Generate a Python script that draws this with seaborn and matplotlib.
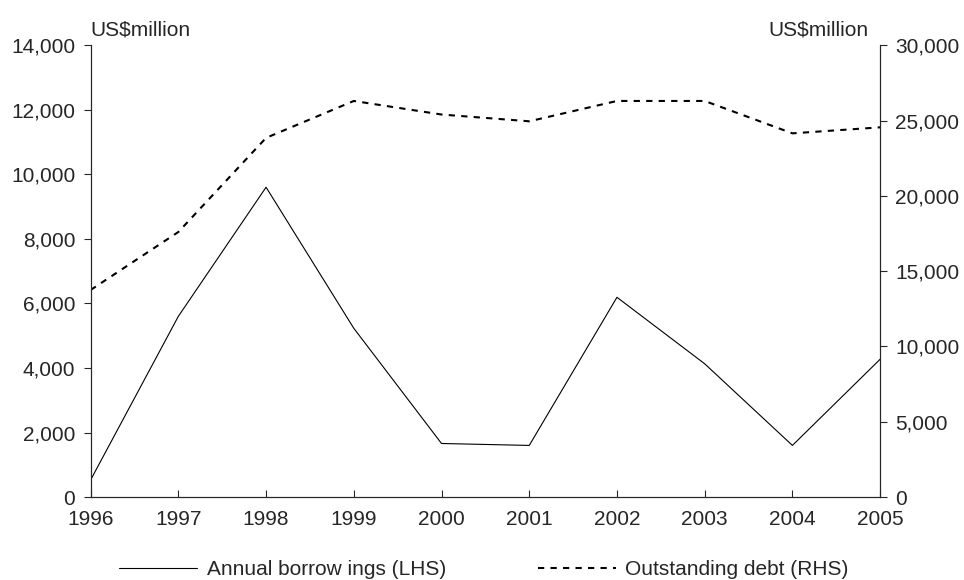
import numpy as np
import pandas as pd
import matplotlib
matplotlib.use("Agg")
import matplotlib.pyplot as plt
import seaborn as sns
from matplotlib.ticker import FuncFormatter

years = [1996, 1997, 1998, 1999, 2000, 2001, 2002, 2003, 2004, 2005]
borrowings = [530, 5600, 9600, 5230, 1660, 1600, 6190, 4130, 1600, 4270]      # LHS
debt = [13750, 17600, 23850, 26300, 25400, 24950, 26300, 26300, 24150, 24550]  # RHS

df = pd.DataFrame({"year": years, "borrowings": borrowings, "debt": debt})

sns.set_style("ticks")
plt.rcParams["font.family"] = ["Liberation Sans", "DejaVu Sans"]
plt.rcParams["font.size"] = 15

fig, ax = plt.subplots(figsize=(9.64, 5.8), dpi=100)
fig.subplots_adjust(left=0.094, right=0.913, top=0.922, bottom=0.143)
ax2 = ax.twinx()

sns.lineplot(data=df, x="year", y="borrowings", ax=ax, color="black", linewidth=0.8,
             label="Annual borrow ings (LHS)", legend=False)
sns.lineplot(data=df, x="year", y="debt", ax=ax2, color="black", linewidth=1.5,
             linestyle=(0, (3, 3)), label="Outstanding debt (RHS)", legend=False)

ax.set_xlim(1996, 2005)
ax.set_ylim(0, 14000)
ax2.set_ylim(0, 30000)
ax.set_xticks(years)
ax.set_yticks(np.arange(0, 14001, 2000))
ax2.set_yticks(np.arange(0, 30001, 5000))
fmt = FuncFormatter(lambda v, p: f"{int(v):,}")
ax.yaxis.set_major_formatter(fmt)
ax2.yaxis.set_major_formatter(fmt)
ax.set_xlabel("")
ax.set_ylabel("")
ax2.set_ylabel("")

for a in (ax, ax2):
    a.spines["top"].set_visible(False)
    for s in a.spines.values():
        s.set_linewidth(0.8)
ax.tick_params(axis="x", direction="in", length=5, width=0.8, pad=9)
ax.tick_params(axis="y", direction="out", length=5, width=0.8, pad=6)
ax2.tick_params(axis="y", direction="out", length=5, width=0.8, pad=6)

ax.text(0, 1.012, "US$million", transform=ax.transAxes, ha="left", va="bottom")
ax2.text(0.985, 1.012, "US$million", transform=ax2.transAxes, ha="right", va="bottom")

h1, l1 = ax.get_legend_handles_labels()
h2, l2 = ax2.get_legend_handles_labels()
fig.legend(h1 + h2, l1 + l2, loc="lower center", ncol=2, frameon=False,
           bbox_to_anchor=(0.502, -0.031), handlelength=3.75, columnspacing=4.4,
           handletextpad=0.45)

plt.savefig("out.png", dpi=100)
